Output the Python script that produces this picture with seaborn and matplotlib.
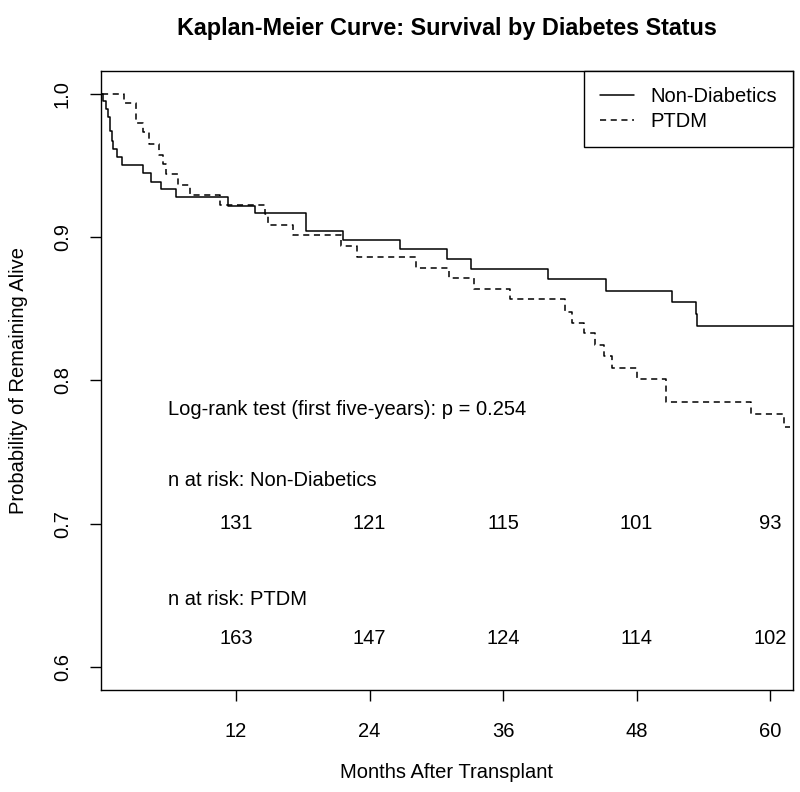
import pandas as pd
import matplotlib
matplotlib.use("Agg")
import matplotlib.pyplot as plt
import seaborn as sns
from matplotlib.lines import Line2D

# ==============================================================================
# DATA (read off the Kaplan-Meier steps)
# ==============================================================================
NONDIAB_MONTHS = [0, 0.05, 0.32, 0.53, 0.68, 0.83, 0.92, 1.28, 1.73, 3.62, 4.34,
                  5.24, 6.61, 11.26, 13.71, 18.29, 21.6, 26.74, 31.0, 33.1, 40.0,
                  45.25, 51.2, 53.3, 53.4, 62.5]
NONDIAB_SURV = [1.0, 0.995, 0.9895, 0.9837, 0.9743, 0.9674, 0.9615, 0.9557, 0.9503,
                0.9445, 0.9387, 0.9336, 0.9277, 0.9219, 0.9166, 0.9044, 0.8981,
                0.8918, 0.8851, 0.8781, 0.8706, 0.8625, 0.8548, 0.8464, 0.838, 0.838]

PTDM_MONTHS = [0, 1.94, 2.99, 3.68, 4.22, 5.09, 5.47, 5.68, 6.82, 7.87, 10.57,
               14.61, 14.9, 17.15, 21.45, 22.85, 28.2, 31.1, 33.4, 36.6, 41.6,
               42.2, 43.3, 44.3, 45.07, 45.76, 48.06, 50.6, 58.3, 61.2, 61.8]
PTDM_SURV = [1.0, 0.9935, 0.9797, 0.9732, 0.9648, 0.9573, 0.951, 0.944, 0.9366,
             0.9296, 0.9226, 0.9161, 0.9084, 0.9014, 0.8935, 0.8865, 0.8788,
             0.8713, 0.8636, 0.8566, 0.848, 0.8403, 0.8329, 0.8247, 0.817, 0.8084,
             0.8012, 0.7851, 0.7765, 0.7676, 0.7676]

RISK_MONTHS = [12, 24, 36, 48, 60]
RISK_NONDIAB = [131, 121, 115, 101, 93]
RISK_PTDM = [163, 147, 124, 114, 102]
P_VALUE = 0.254

GROUPS = ["Non-Diabetics", "PTDM"]
FONT_SIZE = 14.5

# ==============================================================================
# PLOT
# ==============================================================================
df = pd.concat([
    pd.DataFrame({"month": NONDIAB_MONTHS, "surv": NONDIAB_SURV, "group": GROUPS[0]}),
    pd.DataFrame({"month": PTDM_MONTHS, "surv": PTDM_SURV, "group": GROUPS[1]}),
], ignore_index=True)

sns.set_theme(style="ticks")
plt.rcParams["font.family"] = ["Liberation Sans", "DejaVu Sans"]
plt.rcParams["text.color"] = "black"
plt.rcParams["axes.labelcolor"] = "black"

fig = plt.figure(figsize=(8, 7.92), dpi=100)
ax = fig.add_axes([0.12625, 0.1288, 0.865, 0.7816])

sns.lineplot(data=df, x="month", y="surv", style="group", color="black",
             dashes={GROUPS[0]: "", GROUPS[1]: (4, 3)}, drawstyle="steps-post",
             estimator=None, sort=False, linewidth=1.1, legend=False, ax=ax)

ax.set_xlim(-0.13, 62.05)
ax.set_ylim(0.584, 1.016)
ax.set_xticks(RISK_MONTHS)
ax.set_yticks([0.6, 0.7, 0.8, 0.9, 1.0])
ax.set_yticklabels(["0.6", "0.7", "0.8", "0.9", "1.0"], rotation=90, va="center")
ax.tick_params(length=8, width=1.0, color="black", labelsize=FONT_SIZE,
               labelcolor="black")
ax.tick_params(axis="x", pad=15)
ax.tick_params(axis="y", pad=13)
for side in ["top", "right", "bottom", "left"]:
    ax.spines[side].set_visible(True)
    ax.spines[side].set_color("black")
    ax.spines[side].set_linewidth(1.0)

ax.set_title("Kaplan-Meier Curve: Survival by Diabetes Status",
             fontsize=16.8, fontweight="bold", pad=26)
ax.set_xlabel("Months After Transplant", fontsize=FONT_SIZE)
ax.set_ylabel("Probability of Remaining Alive", fontsize=FONT_SIZE)
ax.xaxis.set_label_coords(0.5, -0.118)
ax.yaxis.set_label_coords(-0.105, 0.5)

# annotations
ax.text(5.9, 0.78, f"Log-rank test (first five-years): p = {P_VALUE}",
        ha="left", va="center", fontsize=FONT_SIZE)
ax.text(5.9, 0.73, "n at risk: Non-Diabetics", ha="left", va="center",
        fontsize=FONT_SIZE)
ax.text(5.9, 0.647, "n at risk: PTDM", ha="left", va="center", fontsize=FONT_SIZE)
for m, n1, n2 in zip(RISK_MONTHS, RISK_NONDIAB, RISK_PTDM):
    ax.text(m, 0.70, str(n1), ha="center", va="center", fontsize=FONT_SIZE)
    ax.text(m, 0.62, str(n2), ha="center", va="center", fontsize=FONT_SIZE)

handles = [Line2D([], [], color="black", lw=1.1),
           Line2D([], [], color="black", lw=1.1, ls=(0, (4, 3)))]
leg = ax.legend(handles, GROUPS, loc="upper right", frameon=True, fancybox=False,
                edgecolor="black", framealpha=1, borderaxespad=0,
                handlelength=1.7, handletextpad=0.8, borderpad=0.8,
                labelspacing=0.3, fontsize=FONT_SIZE)
leg.get_frame().set_linewidth(1.0)

fig.savefig("out.png", dpi=100)
plt.close(fig)
